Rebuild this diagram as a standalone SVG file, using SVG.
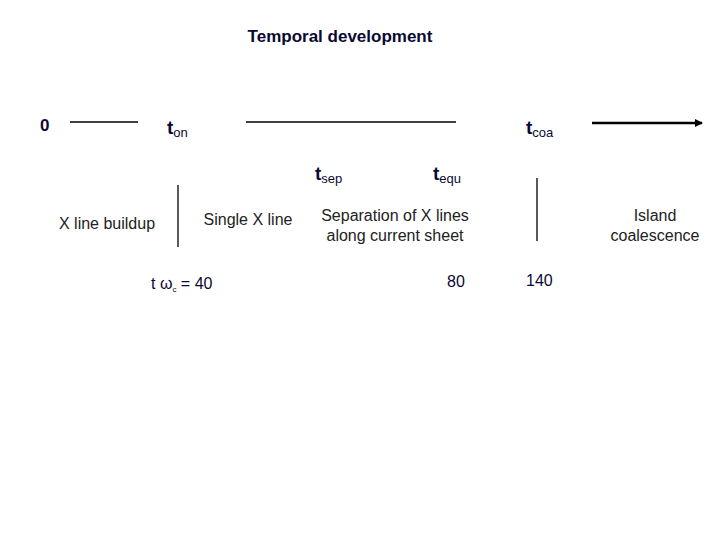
<svg xmlns="http://www.w3.org/2000/svg" width="720" height="540" viewBox="0 0 720 540">
<defs>
<style>
.t{font-family:"Liberation Sans",Arial,sans-serif;fill:#0a0a33}
.lbl{font-family:"Liberation Sans",Arial,sans-serif;fill:#222;font-size:16px;text-anchor:middle}
.ln{stroke:#000;stroke-width:1.3;fill:none}
</style>
<marker id="ah" markerWidth="8" markerHeight="8" refX="7" refY="4" orient="auto" markerUnits="userSpaceOnUse">
<path d="M0,0 L8,4 L0,8 Z" fill="#000"/>
</marker>
</defs>
<rect width="720" height="540" fill="#fff"/>
<g id="title"><text class="t" x="340" y="42" font-size="17" font-weight="bold" text-anchor="middle">Temporal development</text></g>
<g id="connectors">
<line class="ln" x1="70" y1="122" x2="138" y2="122"/>
<line class="ln" x1="246" y1="122" x2="456" y2="122"/>
<line x1="592" y1="123" x2="702" y2="123" stroke="#000" stroke-width="2.5" marker-end="url(#ah)"/>
<line class="ln" x1="178" y1="185" x2="178" y2="247"/>
<line class="ln" x1="537" y1="178" x2="537" y2="241"/>
</g>
<g id="t0"><text class="t" x="40" y="131" font-size="17" font-weight="bold">0</text></g>
<g id="ton"><text class="t" x="167" y="134" font-size="19" font-weight="bold">t<tspan font-size="13" font-weight="normal" dy="3">on</tspan></text></g>
<g id="tcoa"><text class="t" x="526" y="134" font-size="19" font-weight="bold">t<tspan font-size="13" font-weight="normal" dy="3">coa</tspan></text></g>
<g id="tsep"><text class="t" x="315" y="180" font-size="19" font-weight="bold">t<tspan font-size="13" font-weight="normal" dy="3">sep</tspan></text></g>
<g id="tequ"><text class="t" x="433" y="180" font-size="19" font-weight="bold">t<tspan font-size="13" font-weight="normal" dy="3">equ</tspan></text></g>
<g id="buildup"><text class="lbl" x="107" y="229">X line buildup</text></g>
<g id="single"><text class="lbl" x="248" y="225">Single X line</text></g>
<g id="separation"><text class="lbl" x="395" y="221">Separation of X lines</text><text class="lbl" x="395" y="241">along current sheet</text></g>
<g id="island"><text class="lbl" x="655" y="221">Island</text><text class="lbl" x="655" y="241">coalescence</text></g>
<g id="n40"><text class="t" x="151" y="289" font-size="16">t ω<tspan font-size="8" dy="3">c</tspan><tspan dy="-3"> = 40</tspan></text></g>
<g id="n80"><text class="t" x="447" y="287" font-size="16">80</text></g>
<g id="n140"><text class="t" x="526" y="286" font-size="16">140</text></g>
</svg>
